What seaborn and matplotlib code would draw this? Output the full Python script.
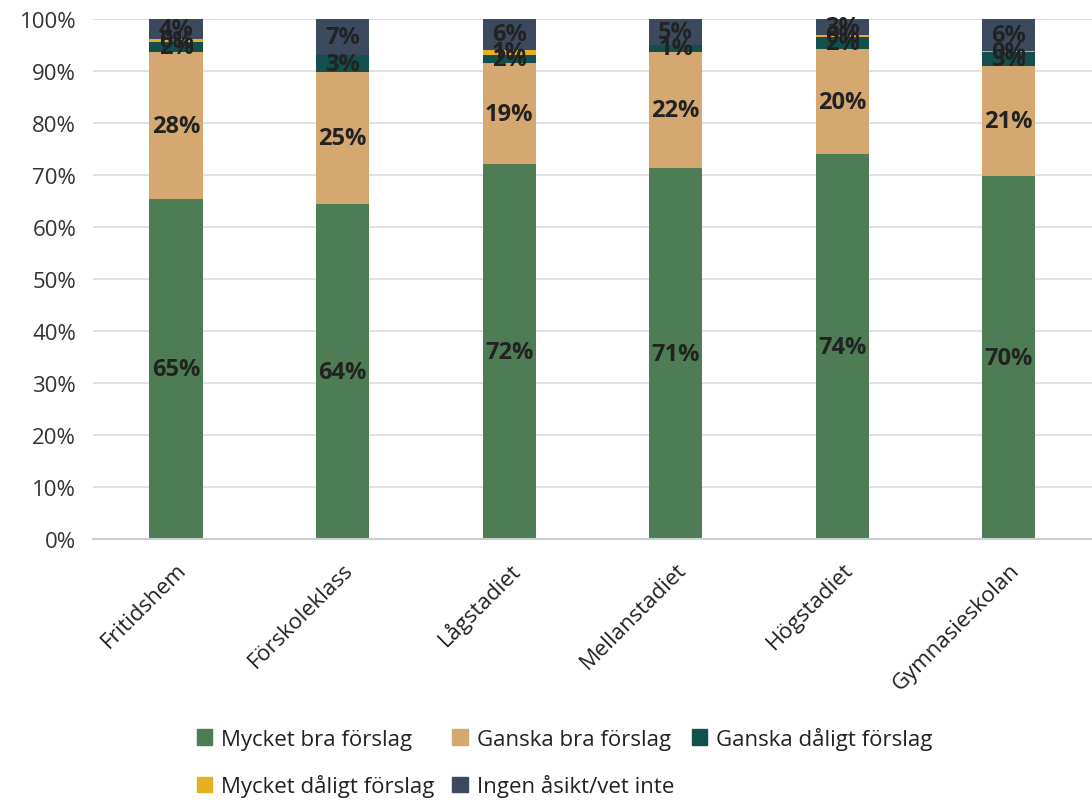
import matplotlib
matplotlib.use('Agg')
import matplotlib.pyplot as plt
import seaborn as sns
import numpy as np
import pandas as pd
from matplotlib.ticker import PercentFormatter
from matplotlib.patches import Patch

categories = ['Fritidshem', 'Förskoleklass', 'Lågstadiet', 'Mellanstadiet', 'Högstadiet', 'Gymnasieskolan']
series_names = ['Mycket bra förslag', 'Ganska bra förslag', 'Ganska dåligt förslag',
                'Mycket dåligt förslag', 'Ingen åsikt/vet inte']
mycket_bra = [65.4, 64.4, 72.1, 71.4, 74.0, 69.8]
ganska_bra = [28.2, 25.4, 19.4, 22.3, 20.2, 21.1]
ganska_daligt = [2.0, 3.3, 1.6, 1.4, 2.4, 2.7]
mycket_daligt = [0.5, 0.0, 1.0, 0.0, 0.3, 0.3]
ingen_asikt = [3.9, 6.9, 5.9, 4.9, 3.1, 6.1]
colors = ['#4E7C54', '#D4A870', '#124F4D', '#E6B022', '#3D4A5E']

sns.set_style('white')
plt.rcParams['font.family'] = ['Open Sans', 'DejaVu Sans']

fig = plt.figure(figsize=(10.92, 8.04), dpi=100)
ax = fig.add_axes([0.085, 0.328, 0.915, 0.647])

series = [mycket_bra, ganska_bra, ganska_daligt, mycket_daligt, ingen_asikt]
bottom = np.zeros(len(categories))
for name, vals, col in zip(series_names, series, colors):
    df = pd.DataFrame({'cat': categories, 'val': vals})
    sns.barplot(data=df, x='cat', y='val', bottom=bottom, color=col, width=0.32,
                saturation=1, ax=ax, edgecolor=col, linewidth=0)
    for i, v in enumerate(vals):
        if v > 0:
            ax.text(i, bottom[i] + v / 2, f'{v:.0f}%', ha='center', va='center',
                    fontsize=17, fontweight='bold', color='#222222')
    bottom += np.array(vals)

ax.set_ylim(0, 100)
ax.set_xlim(-0.5, 5.5)
ax.yaxis.set_major_locator(plt.MultipleLocator(10))
ax.yaxis.set_major_formatter(PercentFormatter(decimals=0))
ax.grid(axis='y', color='#D9DEDE', linewidth=1.2)
ax.set_axisbelow(True)
for s in ['top', 'right', 'left']:
    ax.spines[s].set_visible(False)
ax.spines['bottom'].set_color('#C8D0D0')
ax.spines['bottom'].set_linewidth(1.5)
ax.set_xlabel('')
ax.set_ylabel('')

ax.set_xticks(np.arange(-0.5, 6, 1), minor=True)
ax.tick_params(axis='x', which='minor', length=8, color='#C8D0D0', width=1.5)
ax.tick_params(axis='x', which='major', length=0, pad=14, labelsize=16, colors='#333333')
ax.tick_params(axis='y', length=0, labelsize=16, colors='#333333', pad=12)
for lab in ax.get_xticklabels():
    lab.set_rotation(45)
    lab.set_ha('right')
    lab.set_rotation_mode('anchor')
    lab.set_color('#222222')

handles = [Patch(facecolor=c, edgecolor=c, label=n) for n, c in zip(series_names, colors)]
# row-major order for a 3-column legend
order = [0, 3, 1, 4, 2]
fig.legend(handles=[handles[i] for i in order], loc='lower center', bbox_to_anchor=(0.517, -0.018),
           ncol=3, frameon=False, fontsize=16, handlelength=0.7, handleheight=0.7,
           handletextpad=0.4, columnspacing=0.8, labelspacing=1.1, labelcolor='#222222')

fig.savefig('out.png', dpi=100)
